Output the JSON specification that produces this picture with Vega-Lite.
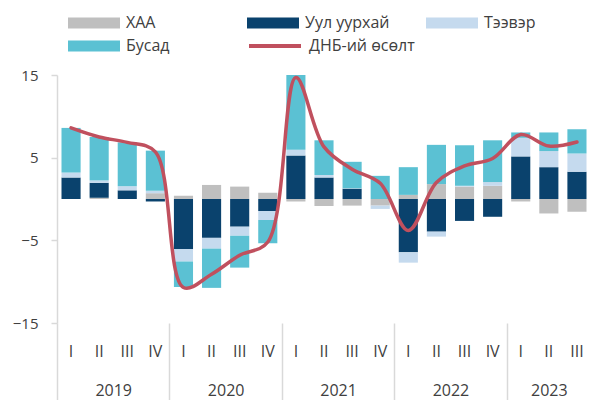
{
  "$schema": "https://vega.github.io/schema/vega-lite/v6.json",
  "width": 534,
  "height": 248,
  "autosize": "none",
  "padding": {"left": 57, "top": 75, "right": 0, "bottom": 77},
  "config": {
    "view": {"stroke": null},
    "font": "Open Sans",
    "axis": {"labelFont": "Open Sans", "labelColor": "#404040", "labelFontSize": 15, "grid": false, "title": null},
    "legend": {"labelFont": "Open Sans", "labelColor": "#404040", "labelFontSize": 16, "padding": 0}
  },
  "datasets": {
    "bars": [
      {"q": "2019-I", "comp": "ХАА", "ord": 1, "v": 0},
      {"q": "2019-I", "comp": "Уул уурхай", "ord": 2, "v": 2.6},
      {"q": "2019-I", "comp": "Тээвэр", "ord": 3, "v": 0.6},
      {"q": "2019-I", "comp": "Бусад", "ord": 4, "v": 5.4},
      {"q": "2019-II", "comp": "ХАА", "ord": 1, "v": 0.15},
      {"q": "2019-II", "comp": "Уул уурхай", "ord": 2, "v": 1.8},
      {"q": "2019-II", "comp": "Тээвэр", "ord": 3, "v": 0.3},
      {"q": "2019-II", "comp": "Бусад", "ord": 4, "v": 5.25},
      {"q": "2019-III", "comp": "ХАА", "ord": 1, "v": 0},
      {"q": "2019-III", "comp": "Уул уурхай", "ord": 2, "v": 1.05},
      {"q": "2019-III", "comp": "Тээвэр", "ord": 3, "v": 0.5},
      {"q": "2019-III", "comp": "Бусад", "ord": 4, "v": 5.3},
      {"q": "2019-IV", "comp": "ХАА", "ord": 1, "v": 0.7},
      {"q": "2019-IV", "comp": "Уул уурхай", "ord": 2, "v": -0.3},
      {"q": "2019-IV", "comp": "Тээвэр", "ord": 3, "v": 0.3},
      {"q": "2019-IV", "comp": "Бусад", "ord": 4, "v": 4.85},
      {"q": "2020-I", "comp": "ХАА", "ord": 1, "v": 0.4},
      {"q": "2020-I", "comp": "Уул уурхай", "ord": 2, "v": -6.05},
      {"q": "2020-I", "comp": "Тээвэр", "ord": 3, "v": -1.5},
      {"q": "2020-I", "comp": "Бусад", "ord": 4, "v": -3.1},
      {"q": "2020-II", "comp": "ХАА", "ord": 1, "v": 1.7},
      {"q": "2020-II", "comp": "Уул уурхай", "ord": 2, "v": -4.7},
      {"q": "2020-II", "comp": "Тээвэр", "ord": 3, "v": -1.3},
      {"q": "2020-II", "comp": "Бусад", "ord": 4, "v": -4.75},
      {"q": "2020-III", "comp": "ХАА", "ord": 1, "v": 1.5},
      {"q": "2020-III", "comp": "Уул уурхай", "ord": 2, "v": -3.35},
      {"q": "2020-III", "comp": "Тээвэр", "ord": 3, "v": -1.1},
      {"q": "2020-III", "comp": "Бусад", "ord": 4, "v": -3.85},
      {"q": "2020-IV", "comp": "ХАА", "ord": 1, "v": 0.75},
      {"q": "2020-IV", "comp": "Уул уурхай", "ord": 2, "v": -1.45},
      {"q": "2020-IV", "comp": "Тээвэр", "ord": 3, "v": -1.1},
      {"q": "2020-IV", "comp": "Бусад", "ord": 4, "v": -2.8},
      {"q": "2021-I", "comp": "ХАА", "ord": 1, "v": -0.3},
      {"q": "2021-I", "comp": "Уул уурхай", "ord": 2, "v": 5.25},
      {"q": "2021-I", "comp": "Тээвэр", "ord": 3, "v": 0.7},
      {"q": "2021-I", "comp": "Бусад", "ord": 4, "v": 9.05},
      {"q": "2021-II", "comp": "ХАА", "ord": 1, "v": -0.85},
      {"q": "2021-II", "comp": "Уул уурхай", "ord": 2, "v": 2.6},
      {"q": "2021-II", "comp": "Тээвэр", "ord": 3, "v": 0.3},
      {"q": "2021-II", "comp": "Бусад", "ord": 4, "v": 4.2},
      {"q": "2021-III", "comp": "ХАА", "ord": 1, "v": -0.8},
      {"q": "2021-III", "comp": "Уул уурхай", "ord": 2, "v": 1.25},
      {"q": "2021-III", "comp": "Тээвэр", "ord": 3, "v": 0.05},
      {"q": "2021-III", "comp": "Бусад", "ord": 4, "v": 3.2},
      {"q": "2021-IV", "comp": "ХАА", "ord": 1, "v": -0.8},
      {"q": "2021-IV", "comp": "Уул уурхай", "ord": 2, "v": 0},
      {"q": "2021-IV", "comp": "Тээвэр", "ord": 3, "v": -0.4},
      {"q": "2021-IV", "comp": "Бусад", "ord": 4, "v": 2.8},
      {"q": "2022-I", "comp": "ХАА", "ord": 1, "v": 0.5},
      {"q": "2022-I", "comp": "Уул уурхай", "ord": 2, "v": -6.45},
      {"q": "2022-I", "comp": "Тээвэр", "ord": 3, "v": -1.25},
      {"q": "2022-I", "comp": "Бусад", "ord": 4, "v": 3.35},
      {"q": "2022-II", "comp": "ХАА", "ord": 1, "v": 1.8},
      {"q": "2022-II", "comp": "Уул уурхай", "ord": 2, "v": -3.95},
      {"q": "2022-II", "comp": "Тээвэр", "ord": 3, "v": -0.6},
      {"q": "2022-II", "comp": "Бусад", "ord": 4, "v": 4.75},
      {"q": "2022-III", "comp": "ХАА", "ord": 1, "v": 1.5},
      {"q": "2022-III", "comp": "Уул уурхай", "ord": 2, "v": -2.65},
      {"q": "2022-III", "comp": "Тээвэр", "ord": 3, "v": 0.1},
      {"q": "2022-III", "comp": "Бусад", "ord": 4, "v": 4.9},
      {"q": "2022-IV", "comp": "ХАА", "ord": 1, "v": 1.6},
      {"q": "2022-IV", "comp": "Уул уурхай", "ord": 2, "v": -2.15},
      {"q": "2022-IV", "comp": "Тээвэр", "ord": 3, "v": 0.45},
      {"q": "2022-IV", "comp": "Бусад", "ord": 4, "v": 5.05},
      {"q": "2023-I", "comp": "ХАА", "ord": 1, "v": -0.3},
      {"q": "2023-I", "comp": "Уул уурхай", "ord": 2, "v": 5.15},
      {"q": "2023-I", "comp": "Тээвэр", "ord": 3, "v": 2.25},
      {"q": "2023-I", "comp": "Бусад", "ord": 4, "v": 0.65},
      {"q": "2023-II", "comp": "ХАА", "ord": 1, "v": -1.75},
      {"q": "2023-II", "comp": "Уул уурхай", "ord": 2, "v": 3.85},
      {"q": "2023-II", "comp": "Тээвэр", "ord": 3, "v": 1.95},
      {"q": "2023-II", "comp": "Бусад", "ord": 4, "v": 2.25},
      {"q": "2023-III", "comp": "ХАА", "ord": 1, "v": -1.55},
      {"q": "2023-III", "comp": "Уул уурхай", "ord": 2, "v": 3.3},
      {"q": "2023-III", "comp": "Тээвэр", "ord": 3, "v": 2.2},
      {"q": "2023-III", "comp": "Бусад", "ord": 4, "v": 2.95}
    ],
    "gdp": [
      {"idx": 0, "q": "2019-I", "gdp": 8.6},
      {"idx": 1, "q": "2019-II", "gdp": 7.5},
      {"idx": 2, "q": "2019-III", "gdp": 6.85},
      {"idx": 3, "q": "2019-IV", "gdp": 5.7},
      {"idx": 4, "q": "2020-I", "gdp": -10.7},
      {"idx": 5, "q": "2020-II", "gdp": -9.1},
      {"idx": 6, "q": "2020-III", "gdp": -6.8},
      {"idx": 7, "q": "2020-IV", "gdp": -5.2},
      {"idx": 8, "q": "2021-I", "gdp": 14.7},
      {"idx": 9, "q": "2021-II", "gdp": 6.3},
      {"idx": 10, "q": "2021-III", "gdp": 3.6},
      {"idx": 11, "q": "2021-IV", "gdp": 1.9},
      {"idx": 12, "q": "2022-I", "gdp": -3.8},
      {"idx": 13, "q": "2022-II", "gdp": 2.0},
      {"idx": 14, "q": "2022-III", "gdp": 4.0},
      {"idx": 15, "q": "2022-IV", "gdp": 4.9},
      {"idx": 16, "q": "2023-I", "gdp": 7.8},
      {"idx": 17, "q": "2023-II", "gdp": 6.4},
      {"idx": 18, "q": "2023-III", "gdp": 6.9}
    ]
  },
  "resolve": {"scale": {"x": "independent"}},
  "layer": [
    {
      "data": {"name": "bars"},
      "mark": {"type": "bar"},
      "encoding": {
        "x": {
          "field": "q", "type": "nominal", "sort": null,
          "scale": {"paddingInner": 0.32, "paddingOuter": 0.16},
          "axis": {"orient": "bottom", "labelExpr": "split(datum.label, '-')[1]", "ticks": false, "domain": false, "labelPadding": 20, "labelAngle": 0, "labelFontSize": 16}
        },
        "y": {
          "field": "v", "type": "quantitative", "stack": "zero",
          "scale": {"domain": [-15, 15], "nice": false},
          "axis": {"values": [-15, -5, 5, 15], "domainColor": "#D9D9D9", "domainWidth": 1.5, "tickColor": "#D9D9D9", "tickWidth": 1.5, "tickSize": 6, "labelPadding": 13}
        },
        "color": {
          "field": "comp", "type": "nominal",
          "scale": {"domain": ["ХАА", "Уул уурхай", "Тээвэр", "Бусад"], "range": ["#BFBFBF", "#0A426D", "#C5DAEE", "#5BC1D3"]},
          "legend": {"orient": "none", "legendX": 11, "legendY": -62, "direction": "horizontal", "columns": 3, "gridAlign": "all", "columnPadding": 36, "rowPadding": 3, "clipHeight": 20, "symbolType": "M-1,-0.21H1V0.21H-1Z", "symbolSize": 2704, "symbolStrokeWidth": 0, "symbolOpacity": 1, "labelOffset": 6, "title": null}
        },
        "order": {"field": "ord", "type": "quantitative"}
      }
    },
    {
      "mark": {"type": "rule", "color": "#D9D9D9", "strokeWidth": 2},
      "encoding": {"y": {"datum": 0}}
    },
    {
      "data": {"name": "gdp"},
      "mark": {"type": "line", "interpolate": "catmull-rom", "strokeWidth": 3.5, "strokeCap": "round"},
      "encoding": {
        "x": {
          "field": "idx", "type": "quantitative",
          "scale": {"domain": [-0.5, 18.5], "nice": false, "zero": false},
          "axis": {
            "orient": "bottom",
            "values": [-0.5, 1.5, 3.5, 5.5, 7.5, 9.5, 11.5, 13.5, 15.5, 17],
            "labelExpr": "datum.value == 1.5 ? '2019' : datum.value == 5.5 ? '2020' : datum.value == 9.5 ? '2021' : datum.value == 13.5 ? '2022' : datum.value == 17 ? '2023' : ''",
            "tickSize": 78, "tickColor": "#D9D9D9", "tickWidth": 1.5,
            "tickOpacity": {"condition": {"test": "datum.value == 1.5 || datum.value == 5.5 || datum.value == 9.5 || datum.value == 13.5 || datum.value == 17", "value": 0}, "value": 1},
            "labelPadding": -19, "labelFontSize": 16, "domain": false, "labelFlush": false, "labelOverlap": false, "labelBound": false
          }
        },
        "y": {"field": "gdp", "type": "quantitative", "scale": {"domain": [-15, 15], "nice": false}},
        "stroke": {
          "datum": "ДНБ-ий өсөлт",
          "scale": {"range": ["#C0505E"]},
          "legend": {"orient": "none", "legendX": 190, "legendY": -39, "clipHeight": 20, "symbolType": "stroke", "symbolSize": 2704, "symbolStrokeWidth": 4, "labelOffset": 6, "title": null}
        }
      }
    }
  ]
}
